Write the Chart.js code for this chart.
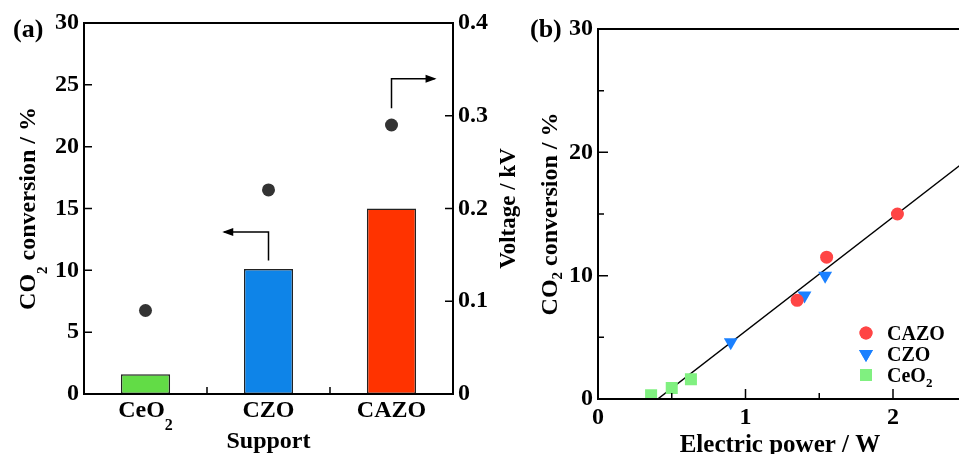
<!DOCTYPE html>
<html>
<head>
<meta charset="utf-8">
<script src="https://cdn.jsdelivr.net/npm/chart.js@4.4.0/dist/chart.umd.min.js"></script>
<style>
    html, body { margin: 0; padding: 0; background: #fff; overflow: hidden; }
    #wrap { position: relative; width: 959px; height: 454px; overflow: hidden; }
    #chartA { position: absolute; left: 0; top: 0; }
    #chartB { position: absolute; left: 525px; top: 0; }
</style>
</head>
<body>
<div id="wrap">
    <canvas id="chartA" width="530" height="454"></canvas>
    <canvas id="chartB" width="535" height="454"></canvas>
</div>
<script>
// (a) conversion (bars, left axis) and voltage (dots, right axis) per support
const supports = ["CeO", "CZO", "CAZO"];
const supportSubs = ["2", "", ""];
const conversion = [1.6, 10.1, 15.0];
const voltage = [0.090, 0.220, 0.290];
const barColors = ["#62dc46", "#0e84e8", "#ff3300"];

// arrows in data units (category index, conversion %)
const arrowToLeftX = [1.0, 1.0, 0.64];
const arrowToLeftY = [10.8, 13.1, 13.1];
const arrowToRightX = [2.0, 2.0, 2.35];
const arrowToRightY = [23.1, 25.5, 25.5];

// (b) conversion vs electric power
const cazoPower = [1.35, 1.55, 2.03];
const cazoConv = [8.0, 11.5, 15.0];
const czoPower = [0.90, 1.40, 1.54];
const czoConv = [4.6, 8.4, 10.0];
const ceo2Power = [0.36, 0.50, 0.63];
const ceo2Conv = [0.3, 0.9, 1.6];
const fitPower = [0.405, 3.0];
const fitConv = [0, 24.0];

const SERIF = '"Liberation Serif", "Times New Roman", serif';
const font = size => "bold " + size + "px " + SERIF;
const pairs = (xs, ys) => xs.map((x, i) => ({ x: x, y: ys[i] }));

// text with an optional lowered subscript part
function richText(ctx, parts, x, y, opt) {
    const size = opt.size;
    const subSize = opt.subSize;
    ctx.save();
    ctx.translate(x, y);
    if (opt.angle) ctx.rotate(opt.angle);
    ctx.textBaseline = "alphabetic";
    ctx.textAlign = "left";
    ctx.fillStyle = "#000";
    const widths = parts.map(p => {
        ctx.font = font(p.sub ? subSize : size);
        return ctx.measureText(p.t).width;
    });
    const total = widths.reduce((a, b) => a + b, 0);
    let cx = opt.align === "left" ? 0 : -total / 2;
    parts.forEach((p, i) => {
        ctx.font = font(p.sub ? subSize : size);
        ctx.fillText(p.t, cx, p.sub ? opt.drop : 0);
        cx += widths[i];
    });
    ctx.restore();
}

function frame(chart) {
    const a = chart.chartArea;
    const ctx = chart.ctx;
    ctx.save();
    ctx.strokeStyle = "#000";
    ctx.lineWidth = 2;
    ctx.strokeRect(a.left, a.top, a.right - a.left, a.bottom - a.top);
    ctx.restore();
}

// ticks pointing into the plot
function innerTicks(chart, id, values, len, side) {
    const a = chart.chartArea;
    const s = chart.scales[id];
    const ctx = chart.ctx;
    ctx.save();
    ctx.strokeStyle = "#000";
    ctx.lineWidth = 1.5;
    ctx.beginPath();
    values.forEach(v => {
        const p = s.getPixelForValue(v);
        if (side === "left") { ctx.moveTo(a.left, p); ctx.lineTo(a.left + len, p); }
        if (side === "right") { ctx.moveTo(a.right, p); ctx.lineTo(a.right - len, p); }
        if (side === "bottom") { ctx.moveTo(p, a.bottom); ctx.lineTo(p, a.bottom - len); }
    });
    ctx.stroke();
    ctx.restore();
}

function arrow(chart, xs, ys) {
    const sx = chart.scales.x, sy = chart.scales.y;
    const ctx = chart.ctx;
    const px = xs.map(v => sx.getPixelForValue(v));
    const py = ys.map(v => sy.getPixelForValue(v));
    ctx.save();
    ctx.strokeStyle = "#000";
    ctx.fillStyle = "#000";
    ctx.lineWidth = 1.5;
    ctx.beginPath();
    ctx.moveTo(px[0], py[0]);
    for (let i = 1; i < px.length; i++) ctx.lineTo(px[i], py[i]);
    ctx.stroke();
    const n = px.length - 1;
    const dir = Math.sign(px[n] - px[n - 1]);
    ctx.beginPath();
    ctx.moveTo(px[n] + dir * 2, py[n]);
    ctx.lineTo(px[n] - dir * 9, py[n] - 4);
    ctx.lineTo(px[n] - dir * 9, py[n] + 4);
    ctx.closePath();
    ctx.fill();
    ctx.restore();
}

const panelA = {
    id: "panelA",
    afterDraw(chart) {
        const ctx = chart.ctx;
        const a = chart.chartArea;
        frame(chart);
        innerTicks(chart, "y", [5, 10, 15, 20, 25], 8, "left");
        innerTicks(chart, "y2", [0.1, 0.2, 0.3], 8, "right");
        innerTicks(chart, "x", [0.5, 1.5], 7, "bottom");
        arrow(chart, arrowToLeftX, arrowToLeftY);
        arrow(chart, arrowToRightX, arrowToRightY);

        // category labels
        supports.forEach((name, i) => {
            const x = chart.scales.x.getPixelForValue(i);
            const parts = [{ t: name }];
            if (supportSubs[i]) parts.push({ t: supportSubs[i], sub: true });
            richText(ctx, parts, x, a.bottom + 23, { size: 24, subSize: 16, drop: 13 });
        });

        // axis titles
        richText(ctx, [{ t: "Support" }], (a.left + a.right) / 2, 448, { size: 24 });
        richText(ctx, [{ t: "CO" }, { t: "2", sub: true }, { t: " conversion / %" }],
            35, (a.top + a.bottom) / 2, { size: 24, subSize: 15, drop: 12, angle: -Math.PI / 2 });
        richText(ctx, [{ t: "Voltage / kV" }], 515, (a.top + a.bottom) / 2,
            { size: 23, angle: -Math.PI / 2 });
        richText(ctx, [{ t: "(a)" }], 13, 37, { size: 26, align: "left" });
    }
};

new Chart(document.getElementById("chartA"), {
    type: "bar",
    data: {
        labels: supports,
        datasets: [
            {
                type: "bar",
                data: conversion,
                backgroundColor: barColors,
                borderColor: "#222",
                borderWidth: 1.5,
                borderSkipped: false,
                barPercentage: 0.4,
                categoryPercentage: 1,
                yAxisID: "y",
                order: 2
            },
            {
                type: "line",
                data: voltage,
                showLine: false,
                pointRadius: 6.5,
                pointBackgroundColor: "#333",
                pointBorderWidth: 0,
                yAxisID: "y2",
                order: 1
            }
        ]
    },
    options: {
        responsive: false,
        animation: false,
        layout: { padding: { top: 23, left: 0, right: 0, bottom: 0 } },
        plugins: { legend: { display: false }, tooltip: { enabled: false } },
        scales: {
            x: {
                grid: { display: false, drawTicks: false },
                border: { display: false },
                ticks: { display: false },
                afterFit: s => { s.height = 60; }
            },
            y: {
                position: "left",
                min: 0,
                max: 30,
                ticks: { stepSize: 5, padding: 5, color: "#000", font: { family: SERIF, size: 24, weight: "bold" } },
                grid: { display: false, drawTicks: false },
                border: { display: false },
                afterFit: s => { s.width = 84; }
            },
            y2: {
                position: "right",
                min: 0,
                max: 0.4,
                ticks: {
                    stepSize: 0.1, padding: 5, color: "#000",
                    font: { family: SERIF, size: 24, weight: "bold" },
                    callback: v => v === 0 ? "0" : v.toFixed(1)
                },
                grid: { display: false, drawTicks: false },
                border: { display: false },
                afterFit: s => { s.width = 77; }
            }
        }
    },
    plugins: [panelA]
});

const legendB = [
    { label: [{ t: "CAZO" }], style: "circle", rotation: 0, radius: 6.5, color: "#ff4545" },
    { label: [{ t: "CZO" }], style: "triangle", rotation: 180, radius: 8, color: "#1a80ff" },
    { label: [{ t: "CeO" }, { t: "2", sub: true }], style: "rect", rotation: 0, radius: 8.5, color: "#80f080" }
];

const panelB = {
    id: "panelB",
    afterDraw(chart) {
        const ctx = chart.ctx;
        const a = chart.chartArea;
        frame(chart);
        innerTicks(chart, "y", [10, 20], 10, "left");
        innerTicks(chart, "y", [5, 15, 25], 6, "left");
        innerTicks(chart, "x", [1, 2], 10, "bottom");
        innerTicks(chart, "x", [0.5, 1.5, 2.5], 6, "bottom");

        // legend inside the plot
        legendB.forEach((e, i) => {
            const mx = a.left + 268;
            const my = a.bottom - 66 + i * 21;
            ctx.save();
            ctx.fillStyle = e.color;
            ctx.strokeStyle = e.color;
            ctx.lineWidth = 0;
            Chart.helpers.drawPoint(ctx, { pointStyle: e.style, rotation: e.rotation, radius: e.radius, borderWidth: 0 }, mx, my);
            ctx.fill();
            ctx.restore();
            richText(ctx, e.label, mx + 21, my + 7, { size: 20, subSize: 13, drop: 5, align: "left" });
        });

        richText(ctx, [{ t: "Electric power / W" }], 780 - 525, 452, { size: 25 });
        richText(ctx, [{ t: "CO" }, { t: "2", sub: true }, { t: " conversion / %" }],
            557 - 525, (a.top + a.bottom) / 2, { size: 24, subSize: 15, drop: 5, angle: -Math.PI / 2 });
        richText(ctx, [{ t: "(b)" }], 5, 37, { size: 26, align: "left" });
    }
};

new Chart(document.getElementById("chartB"), {
    type: "scatter",
    data: {
        datasets: [
            {
                label: "fit",
                type: "line",
                data: pairs(fitPower, fitConv),
                borderColor: "#000",
                borderWidth: 1.5,
                pointRadius: 0,
                showLine: true,
                order: 4
            },
            {
                label: "CAZO",
                data: pairs(cazoPower, cazoConv),
                pointStyle: "circle",
                pointRadius: 6.5,
                backgroundColor: "#ff4545",
                borderWidth: 0,
                order: 1
            },
            {
                label: "CZO",
                data: pairs(czoPower, czoConv),
                pointStyle: "triangle",
                rotation: 180,
                pointRadius: 8,
                backgroundColor: "#1a80ff",
                borderWidth: 0,
                order: 1
            },
            {
                label: "CeO2",
                data: pairs(ceo2Power, ceo2Conv),
                pointStyle: "rect",
                pointRadius: 8.5,
                backgroundColor: "#80f080",
                borderWidth: 0,
                order: 1
            }
        ]
    },
    options: {
        responsive: false,
        animation: false,
        layout: { padding: { top: 29, left: 0, right: 19.5, bottom: 0 } },
        plugins: { legend: { display: false }, tooltip: { enabled: false } },
        scales: {
            x: {
                type: "linear",
                min: 0,
                max: 3,
                ticks: {
                    stepSize: 0.5, padding: 4, color: "#000", maxRotation: 0, autoSkip: false,
                    font: { family: SERIF, size: 24, weight: "bold" },
                    callback: v => Number.isInteger(v) ? String(v) : ""
                },
                grid: { display: false, drawTicks: false },
                border: { display: false },
                afterFit: s => { s.height = 55; }
            },
            y: {
                min: 0,
                max: 30,
                ticks: {
                    stepSize: 5, padding: 5, color: "#000",
                    font: { family: SERIF, size: 24, weight: "bold" },
                    callback: v => v % 10 === 0 ? String(v) : ""
                },
                grid: { display: false, drawTicks: false },
                border: { display: false },
                afterFit: s => { s.width = 73; }
            }
        }
    },
    plugins: [panelB]
});
</script>
</body>
</html>
